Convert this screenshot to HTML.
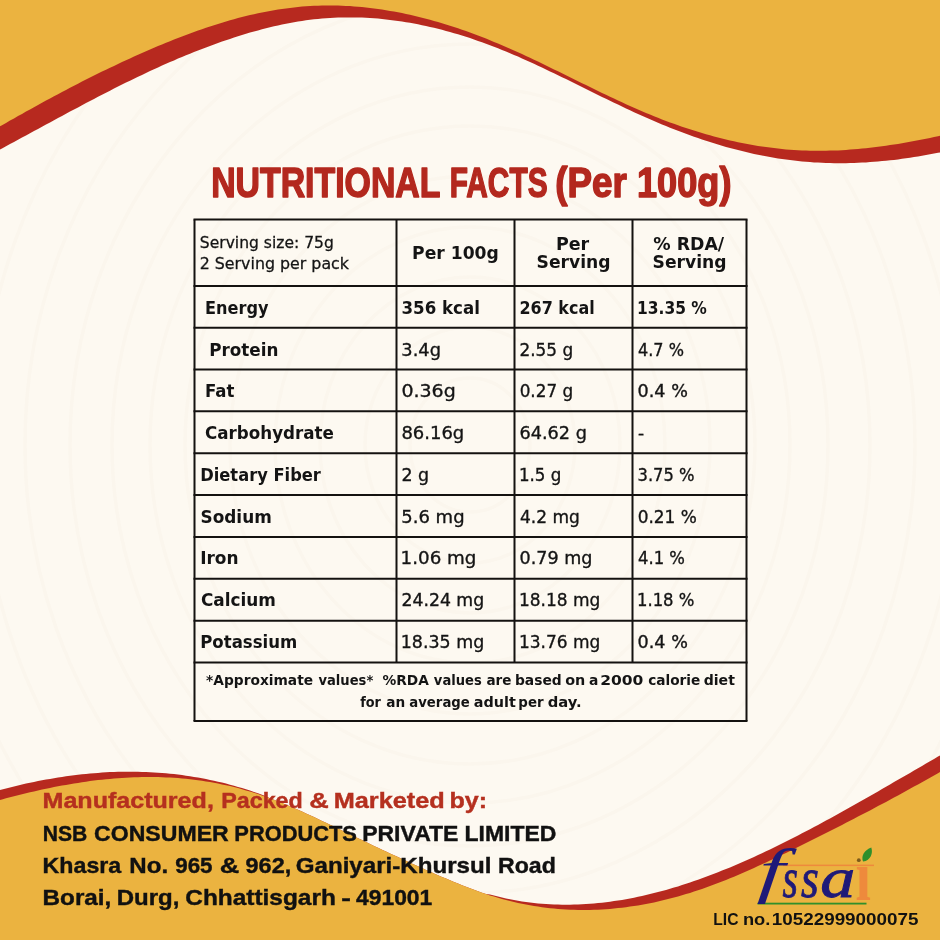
<!DOCTYPE html>
<html><head><meta charset="utf-8"><title>Nutritional Facts</title>
<style>html,body{margin:0;padding:0;background:#FDF9F1}svg{display:block}</style></head>
<body><svg width="940" height="940" viewBox="0 0 940 940">
<rect width="940" height="940" fill="#FDF9F1"/>
<g fill="none" stroke="#8a6a3a" stroke-opacity="0.02" stroke-width="3.5"><ellipse cx="470" cy="445" rx="60" ry="67"/><ellipse cx="470" cy="445" rx="105" ry="118"/><ellipse cx="470" cy="445" rx="150" ry="168"/><ellipse cx="470" cy="445" rx="195" ry="218"/><ellipse cx="470" cy="445" rx="240" ry="269"/><ellipse cx="470" cy="445" rx="285" ry="319"/><ellipse cx="470" cy="445" rx="320" ry="358"/><ellipse cx="470" cy="445" rx="358" ry="401"/><ellipse cx="470" cy="445" rx="400" ry="448"/><ellipse cx="470" cy="445" rx="445" ry="498"/><ellipse cx="470" cy="445" rx="490" ry="549"/><ellipse cx="470" cy="445" rx="540" ry="605"/><ellipse cx="470" cy="445" rx="590" ry="661"/></g>
<path d="M-10.0,154.8 L-6.0,152.7 L-2.0,150.6 L2.0,148.4 L6.0,146.3 L10.0,144.1 L14.0,141.9 L18.0,139.8 L22.0,137.6 L26.0,135.4 L30.0,133.3 L34.0,131.1 L38.0,128.9 L42.0,126.8 L46.0,124.6 L50.0,122.4 L54.0,120.3 L58.0,118.1 L62.0,115.9 L66.0,113.8 L70.0,111.6 L74.0,109.5 L78.0,107.4 L82.0,105.2 L86.0,103.1 L90.0,101.0 L94.0,98.9 L98.0,96.8 L102.0,94.8 L106.0,92.7 L110.0,90.7 L114.0,88.6 L118.0,86.6 L122.0,84.6 L126.0,82.6 L130.0,80.7 L134.0,78.7 L138.0,76.8 L142.0,74.9 L146.0,73.0 L150.0,71.1 L154.0,69.3 L158.0,67.4 L162.0,65.6 L166.0,63.8 L170.0,62.1 L174.0,60.4 L178.0,58.6 L182.0,57.0 L186.0,55.3 L190.0,53.7 L194.0,52.1 L198.0,50.5 L202.0,48.9 L206.0,47.4 L210.0,45.9 L214.0,44.5 L218.0,43.0 L222.0,41.6 L226.0,40.2 L230.0,38.9 L234.0,37.6 L238.0,36.3 L242.0,35.0 L246.0,33.8 L250.0,32.6 L254.0,31.5 L258.0,30.4 L262.0,29.3 L266.0,28.3 L270.0,27.3 L274.0,26.3 L278.0,25.4 L282.0,24.5 L286.0,23.7 L290.0,22.9 L294.0,22.2 L298.0,21.5 L302.0,20.9 L306.0,20.3 L310.0,19.8 L314.0,19.3 L318.0,18.9 L322.0,18.5 L326.0,18.2 L330.0,17.9 L334.0,17.7 L338.0,17.6 L342.0,17.5 L346.0,17.4 L350.0,17.4 L354.0,17.4 L358.0,17.5 L362.0,17.6 L366.0,17.8 L370.0,18.0 L374.0,18.3 L378.0,18.6 L382.0,19.0 L386.0,19.4 L390.0,19.9 L394.0,20.4 L398.0,20.9 L402.0,21.5 L406.0,22.2 L410.0,22.8 L414.0,23.6 L418.0,24.3 L422.0,25.2 L426.0,26.0 L430.0,26.9 L434.0,27.8 L438.0,28.8 L442.0,29.8 L446.0,30.9 L450.0,32.0 L454.0,33.2 L458.0,34.3 L462.0,35.6 L466.0,36.8 L470.0,38.1 L474.0,39.5 L478.0,40.9 L482.0,42.3 L486.0,43.7 L490.0,45.2 L494.0,46.7 L498.0,48.3 L502.0,49.9 L506.0,51.5 L510.0,53.2 L514.0,54.9 L518.0,56.6 L522.0,58.4 L526.0,60.2 L530.0,62.0 L534.0,63.8 L538.0,65.7 L542.0,67.6 L546.0,69.5 L550.0,71.4 L554.0,73.3 L558.0,75.2 L562.0,77.2 L566.0,79.1 L570.0,81.1 L574.0,83.1 L578.0,85.0 L582.0,87.0 L586.0,89.0 L590.0,91.0 L594.0,92.9 L598.0,94.9 L602.0,96.9 L606.0,98.8 L610.0,100.8 L614.0,102.7 L618.0,104.6 L622.0,106.5 L626.0,108.4 L630.0,110.3 L634.0,112.2 L638.0,114.0 L642.0,115.8 L646.0,117.6 L650.0,119.3 L654.0,121.1 L658.0,122.8 L662.0,124.4 L666.0,126.1 L670.0,127.7 L674.0,129.3 L678.0,130.8 L682.0,132.3 L686.0,133.8 L690.0,135.3 L694.0,136.7 L698.0,138.1 L702.0,139.4 L706.0,140.8 L710.0,142.1 L714.0,143.3 L718.0,144.5 L722.0,145.7 L726.0,146.9 L730.0,148.0 L734.0,149.1 L738.0,150.1 L742.0,151.1 L746.0,152.1 L750.0,153.0 L754.0,153.9 L758.0,154.7 L762.0,155.6 L766.0,156.3 L770.0,157.1 L774.0,157.8 L778.0,158.4 L782.0,159.0 L786.0,159.6 L790.0,160.1 L794.0,160.6 L798.0,161.1 L802.0,161.5 L806.0,161.8 L810.0,162.1 L814.0,162.4 L818.0,162.6 L822.0,162.8 L826.0,163.0 L830.0,163.1 L834.0,163.2 L838.0,163.2 L842.0,163.2 L846.0,163.2 L850.0,163.1 L854.0,163.0 L858.0,162.8 L862.0,162.6 L866.0,162.4 L870.0,162.1 L874.0,161.8 L878.0,161.5 L882.0,161.1 L886.0,160.7 L890.0,160.3 L894.0,159.9 L898.0,159.4 L902.0,158.8 L906.0,158.3 L910.0,157.7 L914.0,157.1 L918.0,156.4 L922.0,155.8 L926.0,155.1 L930.0,154.3 L934.0,153.6 L938.0,152.8 L942.0,152.0 L946.0,151.1 L950.0,150.3 L950,-10 L-10,-10 Z" fill="#B7291F"/>
<path d="M-10.0,132.1 L-6.0,129.8 L-2.0,127.5 L2.0,125.2 L6.0,122.9 L10.0,120.6 L14.0,118.4 L18.0,116.1 L22.0,113.9 L26.0,111.6 L30.0,109.4 L34.0,107.2 L38.0,105.0 L42.0,102.8 L46.0,100.6 L50.0,98.4 L54.0,96.3 L58.0,94.2 L62.0,92.0 L66.0,89.9 L70.0,87.8 L74.0,85.8 L78.0,83.7 L82.0,81.6 L86.0,79.6 L90.0,77.6 L94.0,75.6 L98.0,73.6 L102.0,71.6 L106.0,69.7 L110.0,67.8 L114.0,65.9 L118.0,64.0 L122.0,62.1 L126.0,60.2 L130.0,58.4 L134.0,56.6 L138.0,54.8 L142.0,53.0 L146.0,51.2 L150.0,49.5 L154.0,47.8 L158.0,46.1 L162.0,44.4 L166.0,42.8 L170.0,41.2 L174.0,39.6 L178.0,38.0 L182.0,36.5 L186.0,34.9 L190.0,33.4 L194.0,32.0 L198.0,30.6 L202.0,29.2 L206.0,27.8 L210.0,26.5 L214.0,25.2 L218.0,23.9 L222.0,22.7 L226.0,21.5 L230.0,20.3 L234.0,19.2 L238.0,18.1 L242.0,17.1 L246.0,16.1 L250.0,15.1 L254.0,14.2 L258.0,13.3 L262.0,12.5 L266.0,11.7 L270.0,10.9 L274.0,10.2 L278.0,9.6 L282.0,8.9 L286.0,8.4 L290.0,7.9 L294.0,7.4 L298.0,7.0 L302.0,6.6 L306.0,6.3 L310.0,6.0 L314.0,5.8 L318.0,5.7 L322.0,5.6 L326.0,5.5 L330.0,5.5 L334.0,5.5 L338.0,5.6 L342.0,5.7 L346.0,5.9 L350.0,6.1 L354.0,6.4 L358.0,6.7 L362.0,7.1 L366.0,7.5 L370.0,7.9 L374.0,8.4 L378.0,9.0 L382.0,9.6 L386.0,10.2 L390.0,10.9 L394.0,11.6 L398.0,12.3 L402.0,13.1 L406.0,13.9 L410.0,14.8 L414.0,15.7 L418.0,16.7 L422.0,17.7 L426.0,18.7 L430.0,19.8 L434.0,20.9 L438.0,22.1 L442.0,23.2 L446.0,24.5 L450.0,25.7 L454.0,27.0 L458.0,28.3 L462.0,29.7 L466.0,31.1 L470.0,32.5 L474.0,34.0 L478.0,35.5 L482.0,37.1 L486.0,38.6 L490.0,40.2 L494.0,41.9 L498.0,43.5 L502.0,45.2 L506.0,46.9 L510.0,48.7 L514.0,50.5 L518.0,52.3 L522.0,54.1 L526.0,56.0 L530.0,57.8 L534.0,59.7 L538.0,61.6 L542.0,63.6 L546.0,65.5 L550.0,67.4 L554.0,69.4 L558.0,71.3 L562.0,73.3 L566.0,75.3 L570.0,77.3 L574.0,79.2 L578.0,81.2 L582.0,83.2 L586.0,85.1 L590.0,87.1 L594.0,89.0 L598.0,91.0 L602.0,92.9 L606.0,94.8 L610.0,96.7 L614.0,98.6 L618.0,100.5 L622.0,102.3 L626.0,104.2 L630.0,106.0 L634.0,107.8 L638.0,109.5 L642.0,111.2 L646.0,112.9 L650.0,114.6 L654.0,116.2 L658.0,117.8 L662.0,119.4 L666.0,120.9 L670.0,122.4 L674.0,123.8 L678.0,125.3 L682.0,126.7 L686.0,128.0 L690.0,129.3 L694.0,130.6 L698.0,131.8 L702.0,133.0 L706.0,134.2 L710.0,135.3 L714.0,136.4 L718.0,137.5 L722.0,138.5 L726.0,139.5 L730.0,140.4 L734.0,141.3 L738.0,142.2 L742.0,143.0 L746.0,143.8 L750.0,144.5 L754.0,145.2 L758.0,145.9 L762.0,146.5 L766.0,147.1 L770.0,147.6 L774.0,148.1 L778.0,148.6 L782.0,149.0 L786.0,149.4 L790.0,149.7 L794.0,150.0 L798.0,150.2 L802.0,150.4 L806.0,150.6 L810.0,150.7 L814.0,150.8 L818.0,150.8 L822.0,150.8 L826.0,150.7 L830.0,150.6 L834.0,150.5 L838.0,150.4 L842.0,150.2 L846.0,149.9 L850.0,149.6 L854.0,149.3 L858.0,149.0 L862.0,148.6 L866.0,148.2 L870.0,147.8 L874.0,147.3 L878.0,146.8 L882.0,146.3 L886.0,145.7 L890.0,145.1 L894.0,144.5 L898.0,143.9 L902.0,143.2 L906.0,142.5 L910.0,141.8 L914.0,141.1 L918.0,140.3 L922.0,139.5 L926.0,138.7 L930.0,137.9 L934.0,137.0 L938.0,136.2 L942.0,135.3 L946.0,134.4 L950.0,133.4 L950,-10 L-10,-10 Z" fill="#EBB340"/>
<path d="M-10.0,792.7 L-6.0,791.6 L-2.0,790.5 L2.0,789.4 L6.0,788.4 L10.0,787.4 L14.0,786.4 L18.0,785.4 L22.0,784.5 L26.0,783.6 L30.0,782.7 L34.0,781.9 L38.0,781.1 L42.0,780.3 L46.0,779.6 L50.0,778.9 L54.0,778.2 L58.0,777.5 L62.0,776.9 L66.0,776.3 L70.0,775.8 L74.0,775.2 L78.0,774.8 L82.0,774.3 L86.0,773.9 L90.0,773.5 L94.0,773.2 L98.0,772.9 L102.0,772.6 L106.0,772.3 L110.0,772.1 L114.0,772.0 L118.0,771.8 L122.0,771.8 L126.0,771.7 L130.0,771.7 L134.0,771.7 L138.0,771.8 L142.0,771.9 L146.0,772.0 L150.0,772.2 L154.0,772.4 L158.0,772.7 L162.0,773.0 L166.0,773.3 L170.0,773.7 L174.0,774.1 L178.0,774.6 L182.0,775.1 L186.0,775.7 L190.0,776.3 L194.0,776.9 L198.0,777.6 L202.0,778.3 L206.0,779.1 L210.0,779.9 L214.0,780.7 L218.0,781.7 L222.0,782.6 L226.0,783.6 L230.0,784.7 L234.0,785.7 L238.0,786.9 L242.0,788.1 L246.0,789.3 L250.0,790.6 L254.0,791.9 L258.0,793.3 L262.0,794.7 L266.0,796.2 L270.0,798.3 L274.0,799.8 L278.0,801.4 L282.0,803.0 L286.0,804.7 L290.0,806.3 L294.0,808.1 L298.0,809.8 L302.0,811.6 L306.0,813.4 L310.0,815.3 L314.0,817.1 L318.0,819.0 L322.0,820.9 L326.0,822.8 L330.0,824.7 L334.0,826.6 L338.0,828.6 L342.0,830.5 L346.0,832.4 L350.0,834.4 L354.0,836.3 L358.0,838.2 L362.0,840.1 L366.0,842.1 L370.0,844.0 L374.0,845.9 L378.0,847.8 L382.0,849.7 L386.0,851.5 L390.0,853.4 L394.0,855.3 L398.0,857.1 L402.0,859.0 L406.0,860.8 L410.0,862.7 L414.0,864.5 L418.0,866.3 L422.0,868.1 L426.0,869.9 L430.0,871.6 L434.0,873.4 L438.0,875.2 L442.0,876.9 L446.0,878.6 L450.0,880.3 L454.0,882.0 L458.0,883.6 L462.0,885.2 L466.0,886.8 L470.0,888.3 L474.0,889.8 L478.0,891.3 L482.0,892.7 L486.0,894.1 L490.0,894.5 L494.0,895.6 L498.0,896.6 L502.0,897.6 L506.0,898.4 L510.0,899.3 L514.0,900.0 L518.0,900.7 L522.0,901.4 L526.0,902.0 L530.0,902.5 L534.0,903.0 L538.0,903.4 L542.0,903.7 L546.0,904.0 L550.0,904.3 L554.0,904.5 L558.0,904.6 L562.0,904.7 L566.0,904.7 L570.0,904.7 L574.0,904.6 L578.0,904.5 L582.0,904.3 L586.0,904.1 L590.0,903.8 L594.0,903.5 L598.0,903.1 L602.0,902.7 L606.0,902.2 L610.0,901.7 L614.0,901.1 L618.0,900.5 L622.0,899.9 L626.0,899.2 L630.0,898.4 L634.0,897.7 L638.0,896.8 L642.0,896.0 L646.0,895.1 L650.0,894.1 L654.0,893.1 L658.0,892.1 L662.0,891.0 L666.0,889.9 L670.0,888.8 L674.0,887.6 L678.0,886.4 L682.0,885.1 L686.0,883.8 L690.0,882.5 L694.0,881.1 L698.0,879.7 L702.0,878.3 L706.0,876.8 L710.0,875.3 L714.0,873.8 L718.0,872.2 L722.0,870.6 L726.0,869.0 L730.0,867.4 L734.0,865.7 L738.0,864.0 L742.0,862.2 L746.0,860.5 L750.0,858.7 L754.0,856.9 L758.0,855.0 L762.0,853.2 L766.0,851.3 L770.0,849.4 L774.0,847.4 L778.0,845.5 L782.0,843.5 L786.0,841.5 L790.0,839.5 L794.0,837.5 L798.0,835.4 L802.0,833.3 L806.0,831.3 L810.0,829.2 L814.0,827.0 L818.0,824.9 L822.0,822.7 L826.0,820.6 L830.0,818.4 L834.0,816.2 L838.0,814.0 L842.0,811.8 L846.0,809.5 L850.0,807.3 L854.0,805.1 L858.0,802.8 L862.0,800.5 L866.0,798.3 L870.0,796.0 L874.0,793.7 L878.0,791.4 L882.0,789.1 L886.0,786.8 L890.0,784.5 L894.0,782.1 L898.0,779.8 L902.0,777.5 L906.0,775.2 L910.0,772.9 L914.0,770.5 L918.0,768.2 L922.0,765.9 L926.0,763.6 L930.0,761.3 L934.0,758.9 L938.0,756.6 L942.0,754.3 L946.0,752.0 L950.0,749.7 L950,950 L-10,950 Z" fill="#B7291F"/>
<path d="M-10.0,802.7 L-6.0,801.6 L-2.0,800.5 L2.0,799.4 L6.0,798.3 L10.0,797.3 L14.0,796.3 L18.0,795.2 L22.0,794.2 L26.0,793.3 L30.0,792.3 L34.0,791.4 L38.0,790.5 L42.0,789.6 L46.0,788.8 L50.0,787.9 L54.0,787.1 L58.0,786.3 L62.0,785.6 L66.0,784.9 L70.0,784.2 L74.0,783.5 L78.0,782.9 L82.0,782.3 L86.0,781.7 L90.0,781.1 L94.0,780.6 L98.0,780.1 L102.0,779.7 L106.0,779.3 L110.0,778.9 L114.0,778.5 L118.0,778.2 L122.0,777.9 L126.0,777.7 L130.0,777.5 L134.0,777.3 L138.0,777.2 L142.0,777.1 L146.0,777.0 L150.0,777.0 L154.0,777.1 L158.0,777.1 L162.0,777.2 L166.0,777.4 L170.0,777.6 L174.0,777.8 L178.0,778.1 L182.0,778.5 L186.0,778.8 L190.0,779.3 L194.0,779.7 L198.0,780.2 L202.0,780.8 L206.0,781.4 L210.0,782.1 L214.0,782.8 L218.0,783.6 L222.0,784.4 L226.0,785.2 L230.0,786.1 L234.0,787.1 L238.0,788.1 L242.0,789.2 L246.0,790.4 L250.0,791.5 L254.0,792.8 L258.0,794.1 L262.0,795.4 L266.0,796.9 L270.0,798.3 L274.0,799.8 L278.0,801.4 L282.0,803.0 L286.0,804.7 L290.0,806.3 L294.0,808.1 L298.0,809.8 L302.0,811.6 L306.0,813.4 L310.0,815.3 L314.0,817.1 L318.0,819.0 L322.0,820.9 L326.0,822.8 L330.0,824.7 L334.0,826.6 L338.0,828.6 L342.0,830.5 L346.0,832.4 L350.0,834.4 L354.0,836.3 L358.0,838.2 L362.0,840.1 L366.0,842.1 L370.0,844.0 L374.0,845.9 L378.0,847.8 L382.0,849.7 L386.0,851.5 L390.0,853.4 L394.0,855.3 L398.0,857.1 L402.0,859.0 L406.0,860.8 L410.0,862.7 L414.0,864.5 L418.0,866.3 L422.0,868.1 L426.0,869.9 L430.0,871.6 L434.0,873.4 L438.0,875.2 L442.0,876.9 L446.0,878.6 L450.0,880.3 L454.0,882.0 L458.0,883.6 L462.0,885.2 L466.0,886.8 L470.0,888.3 L474.0,889.8 L478.0,891.3 L482.0,892.7 L486.0,894.1 L490.0,895.4 L494.0,896.6 L498.0,897.8 L502.0,898.9 L506.0,900.0 L510.0,901.0 L514.0,902.0 L518.0,902.9 L522.0,903.7 L526.0,904.5 L530.0,905.3 L534.0,906.0 L538.0,906.6 L542.0,907.2 L546.0,907.7 L550.0,908.2 L554.0,908.6 L558.0,908.9 L562.0,909.2 L566.0,909.5 L570.0,909.7 L574.0,909.8 L578.0,909.9 L582.0,910.0 L586.0,910.0 L590.0,909.9 L594.0,909.8 L598.0,909.7 L602.0,909.5 L606.0,909.2 L610.0,908.9 L614.0,908.5 L618.0,908.1 L622.0,907.7 L626.0,907.2 L630.0,906.6 L634.0,906.0 L638.0,905.4 L642.0,904.7 L646.0,904.0 L650.0,903.2 L654.0,902.4 L658.0,901.5 L662.0,900.6 L666.0,899.6 L670.0,898.6 L674.0,897.5 L678.0,896.4 L682.0,895.3 L686.0,894.1 L690.0,892.9 L694.0,891.6 L698.0,890.3 L702.0,888.9 L706.0,887.5 L710.0,886.1 L714.0,884.6 L718.0,883.1 L722.0,881.5 L726.0,879.9 L730.0,878.3 L734.0,876.7 L738.0,875.0 L742.0,873.3 L746.0,871.5 L750.0,869.7 L754.0,867.9 L758.0,866.1 L762.0,864.3 L766.0,862.4 L770.0,860.5 L774.0,858.7 L778.0,856.7 L782.0,854.8 L786.0,852.9 L790.0,850.9 L794.0,849.0 L798.0,847.0 L802.0,845.0 L806.0,843.0 L810.0,841.1 L814.0,839.1 L818.0,837.1 L822.0,835.0 L826.0,833.0 L830.0,831.0 L834.0,829.0 L838.0,826.9 L842.0,824.9 L846.0,822.8 L850.0,820.8 L854.0,818.7 L858.0,816.6 L862.0,814.6 L866.0,812.5 L870.0,810.4 L874.0,808.2 L878.0,806.1 L882.0,804.0 L886.0,801.9 L890.0,799.7 L894.0,797.6 L898.0,795.4 L902.0,793.2 L906.0,791.0 L910.0,788.8 L914.0,786.6 L918.0,784.4 L922.0,782.2 L926.0,779.9 L930.0,777.7 L934.0,775.4 L938.0,773.2 L942.0,770.9 L946.0,768.6 L950.0,766.3 L950,950 L-10,950 Z" fill="#EBB340"/>
<g stroke="#141210" stroke-width="2"><line x1="193.5" y1="219.5" x2="747.5" y2="219.5"/><line x1="193.5" y1="286.0" x2="747.5" y2="286.0"/><line x1="193.5" y1="327.7" x2="747.5" y2="327.7"/><line x1="193.5" y1="369.5" x2="747.5" y2="369.5"/><line x1="193.5" y1="411.3" x2="747.5" y2="411.3"/><line x1="193.5" y1="453.2" x2="747.5" y2="453.2"/><line x1="193.5" y1="495.0" x2="747.5" y2="495.0"/><line x1="193.5" y1="536.9" x2="747.5" y2="536.9"/><line x1="193.5" y1="578.8" x2="747.5" y2="578.8"/><line x1="193.5" y1="620.7" x2="747.5" y2="620.7"/><line x1="193.5" y1="662.5" x2="747.5" y2="662.5"/><line x1="193.5" y1="721.0" x2="747.5" y2="721.0"/><line x1="194.5" y1="219.5" x2="194.5" y2="721.0"/><line x1="396.5" y1="219.5" x2="396.5" y2="662.5"/><line x1="514.5" y1="219.5" x2="514.5" y2="662.5"/><line x1="632.5" y1="219.5" x2="632.5" y2="662.5"/><line x1="746.5" y1="219.5" x2="746.5" y2="721.0"/></g>
<text x="211.17" y="196.8" font-family="'Liberation Sans', sans-serif" font-size="41.6" font-weight="bold" textLength="229.27" lengthAdjust="spacingAndGlyphs" fill="#B3281E" stroke="#B3281E" stroke-width="1.5" stroke-linejoin="round">NUTRITIONAL</text>
<text x="449.74" y="196.8" font-family="'Liberation Sans', sans-serif" font-size="41.6" font-weight="bold" textLength="97.82" lengthAdjust="spacingAndGlyphs" fill="#B3281E" stroke="#B3281E" stroke-width="1.5" stroke-linejoin="round">FACTS</text>
<text x="555.21" y="196.8" font-family="'Liberation Sans', sans-serif" font-size="41.6" font-weight="bold" textLength="71.50" lengthAdjust="spacingAndGlyphs" fill="#B3281E" stroke="#B3281E" stroke-width="1.5" stroke-linejoin="round">(Per</text>
<text x="636.99" y="196.8" font-family="'Liberation Sans', sans-serif" font-size="41.6" font-weight="bold" textLength="94.46" lengthAdjust="spacingAndGlyphs" fill="#B3281E" stroke="#B3281E" stroke-width="1.5" stroke-linejoin="round">100g)</text>
<text x="199.84" y="247.5" font-family="'DejaVu Sans', sans-serif" font-size="16.7" textLength="134.02" lengthAdjust="spacingAndGlyphs" fill="#141414" stroke="#141414" stroke-width="0.3">Serving size: 75g</text>
<text x="199.70" y="269.3" font-family="'DejaVu Sans', sans-serif" font-size="16.7" textLength="149.32" lengthAdjust="spacingAndGlyphs" fill="#141414" stroke="#141414" stroke-width="0.3">2 Serving per pack</text>
<text x="412.06" y="259.1" font-family="'DejaVu Sans', sans-serif" font-size="17.3" font-weight="bold" textLength="86.82" lengthAdjust="spacingAndGlyphs" fill="#141414">Per 100g</text>
<text x="555.93" y="249.6" font-family="'DejaVu Sans', sans-serif" font-size="17.3" font-weight="bold" textLength="33.29" lengthAdjust="spacingAndGlyphs" fill="#141414">Per</text>
<text x="536.61" y="268.2" font-family="'DejaVu Sans', sans-serif" font-size="17.3" font-weight="bold" textLength="73.98" lengthAdjust="spacingAndGlyphs" fill="#141414">Serving</text>
<text x="653.29" y="249.6" font-family="'DejaVu Sans', sans-serif" font-size="17.3" font-weight="bold" textLength="70.85" lengthAdjust="spacingAndGlyphs" fill="#141414">% RDA/</text>
<text x="652.61" y="268.2" font-family="'DejaVu Sans', sans-serif" font-size="17.3" font-weight="bold" textLength="73.98" lengthAdjust="spacingAndGlyphs" fill="#141414">Serving</text>
<text x="205.06" y="313.8" font-family="'DejaVu Sans', sans-serif" font-size="17.7" font-weight="bold" textLength="63.50" lengthAdjust="spacingAndGlyphs" fill="#141414">Energy</text>
<text x="401.53" y="313.8" font-family="'DejaVu Sans', sans-serif" font-size="17.7" font-weight="bold" textLength="78.41" lengthAdjust="spacingAndGlyphs" fill="#141414">356 kcal</text>
<text x="519.47" y="313.8" font-family="'DejaVu Sans', sans-serif" font-size="17.7" font-weight="bold" textLength="75.21" lengthAdjust="spacingAndGlyphs" fill="#141414">267 kcal</text>
<text x="637.01" y="313.8" font-family="'DejaVu Sans', sans-serif" font-size="17.7" font-weight="bold" textLength="69.82" lengthAdjust="spacingAndGlyphs" fill="#141414">13.35 %</text>
<text x="209.20" y="355.5" font-family="'DejaVu Sans', sans-serif" font-size="17.7" font-weight="bold" textLength="69.24" lengthAdjust="spacingAndGlyphs" fill="#141414">Protein</text>
<text x="401.31" y="355.5" font-family="'DejaVu Sans', sans-serif" font-size="17.7" textLength="39.64" lengthAdjust="spacingAndGlyphs" fill="#141414" stroke="#141414" stroke-width="0.35">3.4g</text>
<text x="519.53" y="355.5" font-family="'DejaVu Sans', sans-serif" font-size="17.7" textLength="53.63" lengthAdjust="spacingAndGlyphs" fill="#141414" stroke="#141414" stroke-width="0.35">2.55 g</text>
<text x="637.99" y="355.5" font-family="'DejaVu Sans', sans-serif" font-size="17.7" textLength="45.96" lengthAdjust="spacingAndGlyphs" fill="#141414" stroke="#141414" stroke-width="0.35">4.7 %</text>
<text x="205.02" y="397.3" font-family="'DejaVu Sans', sans-serif" font-size="17.7" font-weight="bold" textLength="29.40" lengthAdjust="spacingAndGlyphs" fill="#141414">Fat</text>
<text x="401.42" y="397.3" font-family="'DejaVu Sans', sans-serif" font-size="17.7" textLength="54.32" lengthAdjust="spacingAndGlyphs" fill="#141414" stroke="#141414" stroke-width="0.35">0.36g</text>
<text x="519.66" y="397.3" font-family="'DejaVu Sans', sans-serif" font-size="17.7" textLength="53.50" lengthAdjust="spacingAndGlyphs" fill="#141414" stroke="#141414" stroke-width="0.35">0.27 g</text>
<text x="637.61" y="397.3" font-family="'DejaVu Sans', sans-serif" font-size="17.7" textLength="50.23" lengthAdjust="spacingAndGlyphs" fill="#141414" stroke="#141414" stroke-width="0.35">0.4 %</text>
<text x="205.01" y="439.0" font-family="'DejaVu Sans', sans-serif" font-size="17.7" font-weight="bold" textLength="128.85" lengthAdjust="spacingAndGlyphs" fill="#141414">Carbohydrate</text>
<text x="401.44" y="439.0" font-family="'DejaVu Sans', sans-serif" font-size="17.7" textLength="62.83" lengthAdjust="spacingAndGlyphs" fill="#141414" stroke="#141414" stroke-width="0.35">86.16g</text>
<text x="519.51" y="439.0" font-family="'DejaVu Sans', sans-serif" font-size="17.7" textLength="67.44" lengthAdjust="spacingAndGlyphs" fill="#141414" stroke="#141414" stroke-width="0.35">64.62 g</text>
<text x="637.94" y="439.0" font-family="'DejaVu Sans', sans-serif" font-size="17.7" textLength="6.13" lengthAdjust="spacingAndGlyphs" fill="#141414" stroke="#141414" stroke-width="0.35">-</text>
<text x="200.24" y="480.7" font-family="'DejaVu Sans', sans-serif" font-size="17.7" font-weight="bold" textLength="120.65" lengthAdjust="spacingAndGlyphs" fill="#141414">Dietary Fiber</text>
<text x="401.39" y="480.7" font-family="'DejaVu Sans', sans-serif" font-size="17.7" textLength="27.72" lengthAdjust="spacingAndGlyphs" fill="#141414" stroke="#141414" stroke-width="0.35">2 g</text>
<text x="518.91" y="480.7" font-family="'DejaVu Sans', sans-serif" font-size="17.7" textLength="42.45" lengthAdjust="spacingAndGlyphs" fill="#141414" stroke="#141414" stroke-width="0.35">1.5 g</text>
<text x="637.53" y="480.7" font-family="'DejaVu Sans', sans-serif" font-size="17.7" textLength="57.02" lengthAdjust="spacingAndGlyphs" fill="#141414" stroke="#141414" stroke-width="0.35">3.75 %</text>
<text x="200.53" y="522.5" font-family="'DejaVu Sans', sans-serif" font-size="17.7" font-weight="bold" textLength="71.27" lengthAdjust="spacingAndGlyphs" fill="#141414">Sodium</text>
<text x="401.26" y="522.5" font-family="'DejaVu Sans', sans-serif" font-size="17.7" textLength="63.31" lengthAdjust="spacingAndGlyphs" fill="#141414" stroke="#141414" stroke-width="0.35">5.6 mg</text>
<text x="519.94" y="522.5" font-family="'DejaVu Sans', sans-serif" font-size="17.7" textLength="59.83" lengthAdjust="spacingAndGlyphs" fill="#141414" stroke="#141414" stroke-width="0.35">4.2 mg</text>
<text x="637.65" y="522.5" font-family="'DejaVu Sans', sans-serif" font-size="17.7" textLength="59.13" lengthAdjust="spacingAndGlyphs" fill="#141414" stroke="#141414" stroke-width="0.35">0.21 %</text>
<text x="200.18" y="564.2" font-family="'DejaVu Sans', sans-serif" font-size="17.7" font-weight="bold" textLength="38.37" lengthAdjust="spacingAndGlyphs" fill="#141414">Iron</text>
<text x="400.64" y="564.2" font-family="'DejaVu Sans', sans-serif" font-size="17.7" textLength="75.77" lengthAdjust="spacingAndGlyphs" fill="#141414" stroke="#141414" stroke-width="0.35">1.06 mg</text>
<text x="519.61" y="564.2" font-family="'DejaVu Sans', sans-serif" font-size="17.7" textLength="72.83" lengthAdjust="spacingAndGlyphs" fill="#141414" stroke="#141414" stroke-width="0.35">0.79 mg</text>
<text x="637.97" y="564.2" font-family="'DejaVu Sans', sans-serif" font-size="17.7" textLength="47.00" lengthAdjust="spacingAndGlyphs" fill="#141414" stroke="#141414" stroke-width="0.35">4.1 %</text>
<text x="200.90" y="605.9" font-family="'DejaVu Sans', sans-serif" font-size="17.7" font-weight="bold" textLength="75.07" lengthAdjust="spacingAndGlyphs" fill="#141414">Calcium</text>
<text x="401.40" y="605.9" font-family="'DejaVu Sans', sans-serif" font-size="17.7" textLength="82.80" lengthAdjust="spacingAndGlyphs" fill="#141414" stroke="#141414" stroke-width="0.35">24.24 mg</text>
<text x="518.88" y="605.9" font-family="'DejaVu Sans', sans-serif" font-size="17.7" textLength="81.39" lengthAdjust="spacingAndGlyphs" fill="#141414" stroke="#141414" stroke-width="0.35">18.18 mg</text>
<text x="636.94" y="605.9" font-family="'DejaVu Sans', sans-serif" font-size="17.7" textLength="57.51" lengthAdjust="spacingAndGlyphs" fill="#141414" stroke="#141414" stroke-width="0.35">1.18 %</text>
<text x="200.22" y="647.6" font-family="'DejaVu Sans', sans-serif" font-size="17.7" font-weight="bold" textLength="97.06" lengthAdjust="spacingAndGlyphs" fill="#141414">Potassium</text>
<text x="400.73" y="647.6" font-family="'DejaVu Sans', sans-serif" font-size="17.7" textLength="83.48" lengthAdjust="spacingAndGlyphs" fill="#141414" stroke="#141414" stroke-width="0.35">18.35 mg</text>
<text x="518.88" y="647.6" font-family="'DejaVu Sans', sans-serif" font-size="17.7" textLength="81.39" lengthAdjust="spacingAndGlyphs" fill="#141414" stroke="#141414" stroke-width="0.35">13.76 mg</text>
<text x="637.61" y="647.6" font-family="'DejaVu Sans', sans-serif" font-size="17.7" textLength="50.23" lengthAdjust="spacingAndGlyphs" fill="#141414" stroke="#141414" stroke-width="0.35">0.4 %</text>
<text x="206.07" y="685.2" font-family="'DejaVu Sans', sans-serif" font-size="14.6" font-weight="bold" textLength="107.02" lengthAdjust="spacingAndGlyphs" fill="#141414">*Approximate</text>
<text x="318.45" y="685.2" font-family="'DejaVu Sans', sans-serif" font-size="14.6" font-weight="bold" textLength="54.86" lengthAdjust="spacingAndGlyphs" fill="#141414">values*</text>
<text x="382.50" y="685.2" font-family="'DejaVu Sans', sans-serif" font-size="14.6" font-weight="bold" textLength="46.39" lengthAdjust="spacingAndGlyphs" fill="#141414">%RDA</text>
<text x="433.85" y="685.2" font-family="'DejaVu Sans', sans-serif" font-size="14.6" font-weight="bold" textLength="47.92" lengthAdjust="spacingAndGlyphs" fill="#141414">values</text>
<text x="486.47" y="685.2" font-family="'DejaVu Sans', sans-serif" font-size="14.6" font-weight="bold" textLength="25.04" lengthAdjust="spacingAndGlyphs" fill="#141414">are</text>
<text x="514.91" y="685.2" font-family="'DejaVu Sans', sans-serif" font-size="14.6" font-weight="bold" textLength="46.78" lengthAdjust="spacingAndGlyphs" fill="#141414">based</text>
<text x="565.24" y="685.2" font-family="'DejaVu Sans', sans-serif" font-size="14.6" font-weight="bold" textLength="20.11" lengthAdjust="spacingAndGlyphs" fill="#141414">on</text>
<text x="589.06" y="685.2" font-family="'DejaVu Sans', sans-serif" font-size="14.6" font-weight="bold" textLength="9.36" lengthAdjust="spacingAndGlyphs" fill="#141414">a</text>
<text x="600.21" y="685.2" font-family="'DejaVu Sans', sans-serif" font-size="14.6" font-weight="bold" textLength="43.19" lengthAdjust="spacingAndGlyphs" fill="#141414">2000</text>
<text x="648.17" y="685.2" font-family="'DejaVu Sans', sans-serif" font-size="14.6" font-weight="bold" textLength="52.15" lengthAdjust="spacingAndGlyphs" fill="#141414">calorie</text>
<text x="703.72" y="685.2" font-family="'DejaVu Sans', sans-serif" font-size="14.6" font-weight="bold" textLength="31.15" lengthAdjust="spacingAndGlyphs" fill="#141414">diet</text>
<text x="360.19" y="706.8" font-family="'DejaVu Sans', sans-serif" font-size="14.6" font-weight="bold" textLength="20.69" lengthAdjust="spacingAndGlyphs" fill="#141414">for</text>
<text x="386.27" y="706.8" font-family="'DejaVu Sans', sans-serif" font-size="14.6" font-weight="bold" textLength="18.93" lengthAdjust="spacingAndGlyphs" fill="#141414">an</text>
<text x="409.29" y="706.8" font-family="'DejaVu Sans', sans-serif" font-size="14.6" font-weight="bold" textLength="60.52" lengthAdjust="spacingAndGlyphs" fill="#141414">average</text>
<text x="473.74" y="706.8" font-family="'DejaVu Sans', sans-serif" font-size="14.6" font-weight="bold" textLength="42.05" lengthAdjust="spacingAndGlyphs" fill="#141414">adult</text>
<text x="518.35" y="706.8" font-family="'DejaVu Sans', sans-serif" font-size="14.6" font-weight="bold" textLength="25.23" lengthAdjust="spacingAndGlyphs" fill="#141414">per</text>
<text x="547.69" y="706.8" font-family="'DejaVu Sans', sans-serif" font-size="14.6" font-weight="bold" textLength="33.98" lengthAdjust="spacingAndGlyphs" fill="#141414">day.</text>
<text x="42.51" y="808.1" font-family="'Liberation Sans', sans-serif" font-size="21.8" font-weight="bold" textLength="171.36" lengthAdjust="spacingAndGlyphs" fill="#B5301F" stroke="#B5301F" stroke-width="0.4">Manufactured,</text>
<text x="221.23" y="808.1" font-family="'Liberation Sans', sans-serif" font-size="21.8" font-weight="bold" textLength="81.59" lengthAdjust="spacingAndGlyphs" fill="#B5301F" stroke="#B5301F" stroke-width="0.4">Packed</text>
<text x="309.15" y="808.1" font-family="'Liberation Sans', sans-serif" font-size="21.8" font-weight="bold" textLength="19.52" lengthAdjust="spacingAndGlyphs" fill="#B5301F" stroke="#B5301F" stroke-width="0.4">&amp;</text>
<text x="333.69" y="808.1" font-family="'Liberation Sans', sans-serif" font-size="21.8" font-weight="bold" textLength="111.07" lengthAdjust="spacingAndGlyphs" fill="#B5301F" stroke="#B5301F" stroke-width="0.4">Marketed</text>
<text x="449.47" y="808.1" font-family="'Liberation Sans', sans-serif" font-size="21.8" font-weight="bold" textLength="37.61" lengthAdjust="spacingAndGlyphs" fill="#B5301F" stroke="#B5301F" stroke-width="0.4">by:</text>
<text x="42.78" y="840.9" font-family="'Liberation Sans', sans-serif" font-size="21.8" font-weight="bold" textLength="44.55" lengthAdjust="spacingAndGlyphs" fill="#111" stroke="#111" stroke-width="0.4">NSB</text>
<text x="94.08" y="840.9" font-family="'Liberation Sans', sans-serif" font-size="21.8" font-weight="bold" textLength="134.61" lengthAdjust="spacingAndGlyphs" fill="#111" stroke="#111" stroke-width="0.4">CONSUMER</text>
<text x="234.32" y="840.9" font-family="'Liberation Sans', sans-serif" font-size="21.8" font-weight="bold" textLength="122.63" lengthAdjust="spacingAndGlyphs" fill="#111" stroke="#111" stroke-width="0.4">PRODUCTS</text>
<text x="362.15" y="840.9" font-family="'Liberation Sans', sans-serif" font-size="21.8" font-weight="bold" textLength="96.29" lengthAdjust="spacingAndGlyphs" fill="#111" stroke="#111" stroke-width="0.4">PRIVATE</text>
<text x="464.55" y="840.9" font-family="'Liberation Sans', sans-serif" font-size="21.8" font-weight="bold" textLength="91.82" lengthAdjust="spacingAndGlyphs" fill="#111" stroke="#111" stroke-width="0.4">LIMITED</text>
<text x="42.64" y="872.9" font-family="'Liberation Sans', sans-serif" font-size="21.8" font-weight="bold" textLength="78.61" lengthAdjust="spacingAndGlyphs" fill="#111" stroke="#111" stroke-width="0.4">Khasra</text>
<text x="129.38" y="872.9" font-family="'Liberation Sans', sans-serif" font-size="21.8" font-weight="bold" textLength="38.77" lengthAdjust="spacingAndGlyphs" fill="#111" stroke="#111" stroke-width="0.4">No.</text>
<text x="175.22" y="872.9" font-family="'Liberation Sans', sans-serif" font-size="21.8" font-weight="bold" textLength="37.32" lengthAdjust="spacingAndGlyphs" fill="#111" stroke="#111" stroke-width="0.4">965</text>
<text x="219.75" y="872.9" font-family="'Liberation Sans', sans-serif" font-size="21.8" font-weight="bold" textLength="19.52" lengthAdjust="spacingAndGlyphs" fill="#111" stroke="#111" stroke-width="0.4">&amp;</text>
<text x="245.58" y="872.9" font-family="'Liberation Sans', sans-serif" font-size="21.8" font-weight="bold" textLength="45.64" lengthAdjust="spacingAndGlyphs" fill="#111" stroke="#111" stroke-width="0.4">962,</text>
<text x="295.74" y="872.9" font-family="'Liberation Sans', sans-serif" font-size="21.8" font-weight="bold" textLength="195.67" lengthAdjust="spacingAndGlyphs" fill="#111" stroke="#111" stroke-width="0.4">Ganiyari-Khursul</text>
<text x="497.94" y="872.9" font-family="'Liberation Sans', sans-serif" font-size="21.8" font-weight="bold" textLength="57.87" lengthAdjust="spacingAndGlyphs" fill="#111" stroke="#111" stroke-width="0.4">Road</text>
<text x="42.56" y="904.8" font-family="'Liberation Sans', sans-serif" font-size="21.8" font-weight="bold" textLength="68.75" lengthAdjust="spacingAndGlyphs" fill="#111" stroke="#111" stroke-width="0.4">Borai,</text>
<text x="116.68" y="904.8" font-family="'Liberation Sans', sans-serif" font-size="21.8" font-weight="bold" textLength="62.66" lengthAdjust="spacingAndGlyphs" fill="#111" stroke="#111" stroke-width="0.4">Durg,</text>
<text x="185.32" y="904.8" font-family="'Liberation Sans', sans-serif" font-size="21.8" font-weight="bold" textLength="150.53" lengthAdjust="spacingAndGlyphs" fill="#111" stroke="#111" stroke-width="0.4">Chhattisgarh</text>
<text x="341.24" y="904.8" font-family="'Liberation Sans', sans-serif" font-size="21.8" font-weight="bold" textLength="9.63" lengthAdjust="spacingAndGlyphs" fill="#111" stroke="#111" stroke-width="0.4">-</text>
<text x="356.06" y="904.8" font-family="'Liberation Sans', sans-serif" font-size="21.8" font-weight="bold" textLength="76.22" lengthAdjust="spacingAndGlyphs" fill="#111" stroke="#111" stroke-width="0.4">491001</text>
<text x="713.24" y="924.9" font-family="'Liberation Sans', sans-serif" font-size="16.0" font-weight="bold" textLength="25.20" lengthAdjust="spacingAndGlyphs" fill="#111">LIC</text>
<text x="742.91" y="924.9" font-family="'Liberation Sans', sans-serif" font-size="16.0" font-weight="bold" textLength="27.41" lengthAdjust="spacingAndGlyphs" fill="#111">no.</text>
<text x="771.82" y="924.9" font-family="'Liberation Sans', sans-serif" font-size="16.0" font-weight="bold" textLength="146.62" lengthAdjust="spacingAndGlyphs" fill="#111">10522999000075</text>
<rect x="783" y="864.6" width="91" height="1.5" fill="#EE8A3C"/><rect x="757.5" y="902.7" width="109" height="1.8" fill="#2F8F2B"/><text x="756.43" y="890.8" font-family="'Liberation Serif', serif" font-size="61.0" font-style="italic" textLength="25.50" lengthAdjust="spacingAndGlyphs" fill="#1F1A78" transform="translate(757 903) skewX(-4.5) translate(-757 -903)">f</text><text x="782.45" y="896.9" font-family="'Liberation Serif', serif" font-size="58.0" font-style="italic" textLength="15.46" lengthAdjust="spacingAndGlyphs" fill="#1F1A78" stroke="#1F1A78" stroke-width="0.9">s</text><text x="800.88" y="896.9" font-family="'Liberation Serif', serif" font-size="58.0" font-style="italic" textLength="17.81" lengthAdjust="spacingAndGlyphs" fill="#1F1A78" stroke="#1F1A78" stroke-width="0.9">s</text><text x="820.35" y="896.9" font-family="'Liberation Serif', serif" font-size="58.0" font-style="italic" textLength="35.03" lengthAdjust="spacingAndGlyphs" fill="#1F1A78" stroke="#1F1A78" stroke-width="0.9">a</text><text x="855.60" y="899.8" font-family="'Liberation Serif', serif" font-size="72.0" font-weight="bold" textLength="15.40" lengthAdjust="spacingAndGlyphs" fill="#EE8A3C">ı</text><path d="M863,861.6 C860.8,855.5 864.5,850 871.3,847.4 C873.2,853 870.8,860.2 863,861.6 Z" fill="#2F8F2B"/><circle cx="858.8" cy="860.2" r="1.9" fill="#7d5a1a"/>
</svg></body></html>
